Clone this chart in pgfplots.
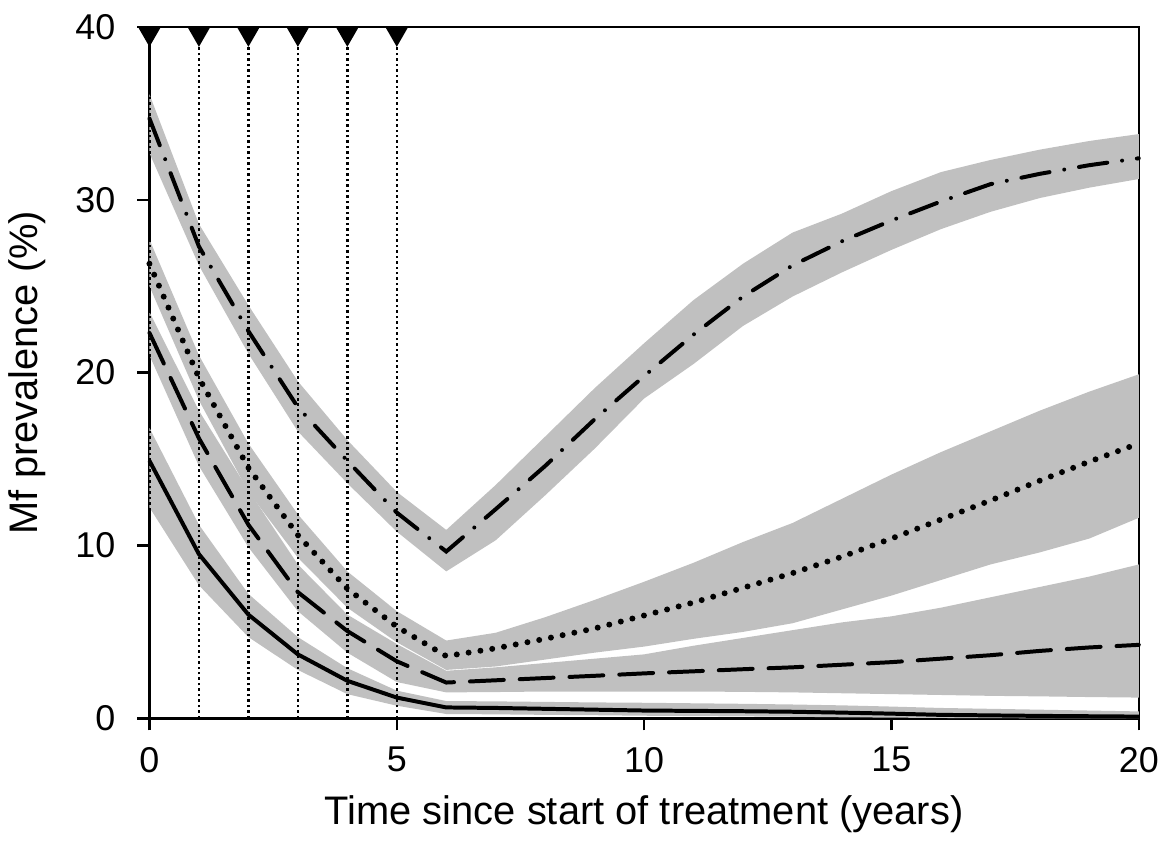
\documentclass[border=0pt]{standalone}
\usepackage{pgfplots}
\pgfplotsset{compat=1.18}
\usepackage{pgfplotstable}
\usepgfplotslibrary{fillbetween}
\usepackage{fontspec}
\setmainfont{Liberation Sans}

\definecolor{band}{RGB}{192,192,192}

% downward triangle hanging from the top axis line
\pgfdeclareplotmark{dtri}{%
  \pgfpathmoveto{\pgfqpoint{-4.6pt}{0pt}}%
  \pgfpathlineto{\pgfqpoint{4.6pt}{0pt}}%
  \pgfpathlineto{\pgfqpoint{0pt}{-8pt}}%
  \pgfpathclose\pgfusepathqfill}

% year, median, lower, upper
\pgfplotstableread{
x   m     lo    hi
0   34.7  32.7  36.1
1   27.3  26.2  28.6
2   22.4  21.1  23.9
3   18.0  16.6  19.5
4   14.9  13.6  16.1
5   11.9  10.8  13.1
6   9.65  8.5   10.9
7   12.1  10.3  13.5
8   14.6  12.9  16.3
9   17.3  15.6  19.1
10  19.8  18.5  21.7
11  22.2  20.5  24.2
12  24.4  22.7  26.3
13  26.2  24.4  28.1
14  27.6  25.8  29.2
15  28.8  27.1  30.5
16  29.9  28.3  31.6
17  30.9  29.3  32.3
18  31.5  30.1  32.9
19  32.0  30.7  33.4
20  32.4  31.2  33.8
}\seriesA

\pgfplotstableread{
x   m     lo    hi
0   26.3  25.0  27.7
1   19.7  18.4  21.0
2   14.5  13.1  15.9
3   10.6  9.3   11.8
4   7.5   6.4   8.5
5   5.3   4.4   6.2
6   3.6   2.8   4.5
7   4.05  3.0   4.95
8   4.6   3.4   5.85
9   5.2   3.8   6.85
10  5.95  4.15  7.9
11  6.7   4.6   9.0
12  7.55  5.0   10.2
13  8.4   5.5   11.3
14  9.35  6.3   12.7
15  10.4  7.1   14.1
16  11.5  8.0   15.4
17  12.6  8.9   16.6
18  13.75 9.6   17.8
19  14.85 10.4  18.9
20  15.9  11.6  19.9
}\seriesB

\pgfplotstableread{
x   m     lo    hi
0   22.3  21.0  23.5
1   16.2  14.6  17.8
2   11.2  9.9   13.2
3   7.3   6.2   8.9
4   5.05  3.8   6.0
5   3.3   2.1   4.3
6   2.07  1.5   2.75
7   2.2   1.52  2.95
8   2.33  1.55  3.2
9   2.46  1.55  3.45
10  2.6   1.55  3.7
11  2.72  1.55  4.2
12  2.84  1.53  4.65
13  2.95  1.5   5.1
14  3.1   1.45  5.55
15  3.25  1.4   5.9
16  3.45  1.35  6.4
17  3.65  1.3   7.0
18  3.9   1.27  7.6
19  4.1   1.23  8.2
20  4.25  1.2   8.9
}\seriesC

\pgfplotstableread{
x   m     lo    hi
0   14.9  12.2  16.8
1   9.5   7.7   11.2
2   6.0   4.7   7.2
3   3.7   2.8   4.7
4   2.17  1.4   2.9
5   1.2   0.73  1.6
6   0.63  0.25  1.0
7   0.6   0.23  0.98
8   0.55  0.2   0.95
9   0.5   0.18  0.92
10  0.45  0.15  0.9
11  0.43  0.13  0.87
12  0.41  0.11  0.84
13  0.38  0.09  0.8
14  0.33  0.06  0.75
15  0.27  0.04  0.68
16  0.2   0.02  0.6
17  0.17  0.01  0.55
18  0.14  0.0   0.5
19  0.12  0.0   0.45
20  0.1   0.0   0.4
}\seriesD

\begin{document}
\begin{tikzpicture}
\begin{axis}[
  scale only axis,
  width=397.2pt, height=277.6pt,
  at={(0,0)}, anchor=south west,
  xmin=0, xmax=20, ymin=0, ymax=40,
  xtick={0,5,...,20}, ytick={0,10,...,40},
  minor tick num=0,
  tick align=outside,
  xtick pos=left, ytick pos=left,
  major tick length=4.8pt,
  axis line style={line width=1pt},
  every tick/.style={black, line width=1pt},
  tick label style={font=\fontsize{14.4}{17}\selectfont},
  yticklabel style={xshift=-5.4pt},
  xticklabel style={yshift=-3.2pt},
  /pgf/number format/assume math mode=true,
  xlabel={Time since start of treatment (years)},
  ylabel={Mf prevalence (\%)},
  every axis x label/.style={at={(axis description cs:0.5,-0.1383)},
    anchor=center, font=\fontsize{16}{19}\selectfont},
  every axis y label/.style={at={(axis description cs:-0.1239,0.5)},
    rotate=90, anchor=center, font=\fontsize{16}{19}\selectfont},
  clip=false,
]
% uncertainty bands
\addplot[draw=none, name path=au] table[x=x, y=hi] {\seriesA};
\addplot[draw=none, name path=al] table[x=x, y=lo] {\seriesA};
\addplot[band] fill between[of=au and al];
\addplot[draw=none, name path=bu] table[x=x, y=hi] {\seriesB};
\addplot[draw=none, name path=bl] table[x=x, y=lo] {\seriesB};
\addplot[band] fill between[of=bu and bl];
\addplot[draw=none, name path=cu] table[x=x, y=hi] {\seriesC};
\addplot[draw=none, name path=cl] table[x=x, y=lo] {\seriesC};
\addplot[band] fill between[of=cu and cl];
\addplot[draw=none, name path=du] table[x=x, y=hi] {\seriesD};
\addplot[draw=none, name path=dl] table[x=x, y=lo] {\seriesD};
\addplot[band] fill between[of=du and dl];

% treatment rounds
\addplot[ycomb, black, line width=1pt, dash pattern=on 1pt off 1.2pt]
  coordinates {(0,40) (1,40) (2,40) (3,40) (4,40) (5,40)};
\addplot[only marks, mark=dtri, black]
  coordinates {(0,40) (1,40) (2,40) (3,40) (4,40) (5,40)};

% medians
\addplot[black, line width=1.6pt, line cap=round,
  dash pattern=on 11.5pt off 6pt on 0pt off 6pt] table[x=x, y=m] {\seriesA};
\addplot[black, line width=2.4pt, line cap=round,
  dash pattern=on 0pt off 4.8pt] table[x=x, y=m] {\seriesB};
\addplot[black, line width=1.6pt, line cap=round,
  dash pattern=on 13.6pt off 6.4pt] table[x=x, y=m] {\seriesC};
\addplot[black, line width=1.6pt] table[x=x, y=m] {\seriesD};
\end{axis}
\path (-60pt,-51.6pt) rectangle (406.8pt,288.4pt);
\end{tikzpicture}
\end{document}
